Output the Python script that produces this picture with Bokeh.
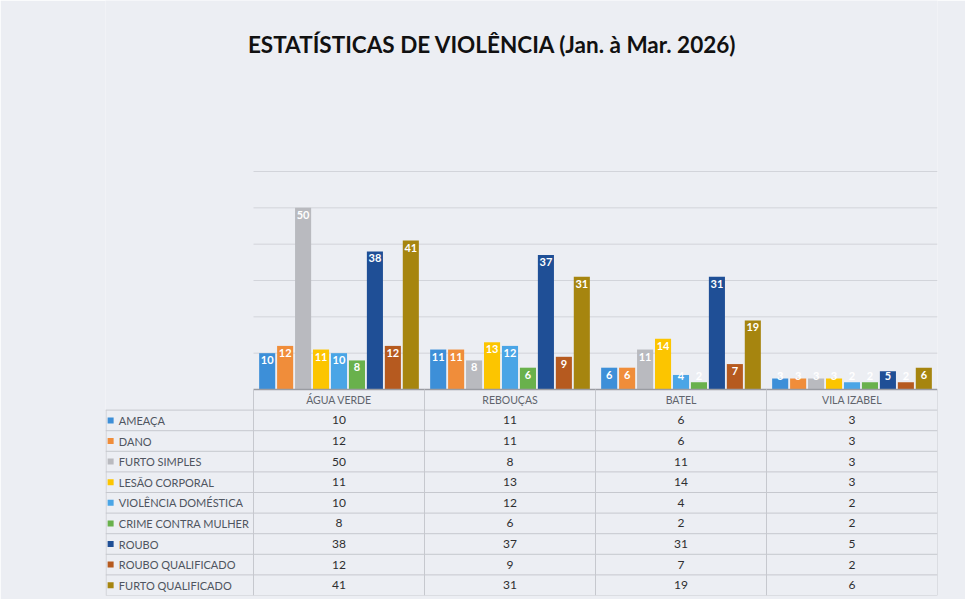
from bokeh.plotting import figure
from bokeh.models import ColumnDataSource, Range1d
from bokeh.core.properties import value
from bokeh.embed import file_html
from bokeh.resources import INLINE

# ---------------- data ----------------
districts = ["ÁGUA VERDE", "REBOUÇAS", "BATEL", "VILA IZABEL"]
series_names = ["AMEAÇA", "DANO", "FURTO SIMPLES", "LESÃO CORPORAL",
                "VIOLÊNCIA DOMÉSTICA", "CRIME CONTRA MULHER", "ROUBO",
                "ROUBO QUALIFICADO", "FURTO QUALIFICADO"]
ameaca = [10, 11, 6, 3]
dano = [12, 11, 6, 3]
furto_simples = [50, 8, 11, 3]
lesao_corporal = [11, 13, 14, 3]
violencia_domestica = [10, 12, 4, 2]
crime_contra_mulher = [8, 6, 2, 2]
roubo = [38, 37, 31, 5]
roubo_qualificado = [12, 9, 7, 2]
furto_qualificado = [41, 31, 19, 6]
series_values = [ameaca, dano, furto_simples, lesao_corporal, violencia_domestica,
                 crime_contra_mulher, roubo, roubo_qualificado, furto_qualificado]
y_ticks = [10, 20, 30, 40, 50, 60]
title_text = "ESTATÍSTICAS DE VIOLÊNCIA (Jan. à Mar. 2026)"

colors = ["#3d8fd8", "#f08d3a", "#b9babf", "#fcc500", "#4aa5e6",
          "#69b14c", "#1f4f96", "#b65a1f", "#a6850f"]

BG = "#eceef3"
FONT = "Lato"
W, H = 965, 599
BOTTOM = 4
frame_h = H - BOTTOM
chart_top_px = 171      # pixel row of the value 60
base_px = 389           # pixel row of the value 0 (baseline)
title_px = 44           # pixel row of the title centre
chart_px = base_px - chart_top_px
row_px = 20.6           # height of one table row
ymax = 60
unit = chart_px / ymax
left = -148 / 171       # legend column width relative to a category column
n = len(districts)

p = figure(width=W, height=H, x_range=Range1d(left, n),
           y_range=Range1d(-(frame_h - base_px) / unit, base_px / unit),
           output_backend="svg", toolbar_location=None,
           min_border_left=105, min_border_right=28, min_border_top=0,
           min_border_bottom=BOTTOM)
p.extra_y_ranges = {"tbl": Range1d(start=(frame_h - base_px) / row_px,
                                   end=-base_px / row_px)}

# title (centred at page x = 492)
p.text(x=[(492 - 253) / 171], y=[(base_px - title_px) / unit], text=[title_text],
       text_font=value(FONT), text_font_style="bold", text_font_size="22.5px",
       text_color="#111111", text_align="center", text_baseline="middle")

# gridlines (only over the chart area)
p.segment(x0=[0] * len(y_ticks), x1=[n] * len(y_ticks), y0=y_ticks, y1=y_ticks,
          line_color="#d2d4da", line_width=1)

# bars + labels
pitch = 0.105
bw = 0.094
for i, (name, vals) in enumerate(zip(series_names, series_values)):
    off = (i - 4) * pitch
    xs = [d + 0.5 + off for d in range(n)]
    src = ColumnDataSource(dict(x=xs, v=vals, ly=[max(v, 5.6) for v in vals],
                                lab=[str(v) for v in vals]))
    p.vbar(x="x", top="v", bottom=0, width=bw, source=src,
           fill_color=colors[i], line_color=None)
    p.text(x="x", y="ly", text="lab", source=src,
           text_font=value(FONT), text_font_style="bold", text_font_size="11px",
           text_color="white", text_align="center", text_baseline="top",
           y_offset=3)

# baseline
p.segment(x0=[0], x1=[n], y0=[0], y1=[0], line_color="#9a9ca2", line_width=1.5)

# ---------------- data table ----------------
line_c = "#c6c8ce"
rows = len(series_names) + 1
hy = [r for r in range(1, rows + 1)]
p.segment(x0=[left] * len(hy), y0=hy, x1=[n] * len(hy), y1=hy,
          line_color=line_c, line_width=1, y_range_name="tbl")
vx = [float(d) for d in range(n + 1)]
p.segment(x0=vx, y0=[0] * len(vx), x1=vx, y1=[rows] * len(vx),
          line_color=line_c, line_width=1, y_range_name="tbl")
p.segment(x0=[left + 0.003], y0=[1], x1=[left + 0.003], y1=[rows],
          line_color=line_c, line_width=1, y_range_name="tbl")

hsrc = ColumnDataSource(dict(x=[i + 0.5 for i in range(n)], y=[0.5] * n, t=districts))
p.text(x="x", y="y", text="t", source=hsrc, text_font=value(FONT),
       text_font_size="10.5px", text_color="#60646c", text_align="center",
       text_baseline="middle", y_range_name="tbl")

lsrc = ColumnDataSource(dict(x=[left + 0.03] * 9, xt=[left + 0.078] * 9,
                             y=[k + 1.5 for k in range(9)], t=series_names, c=colors))
p.scatter(x="x", y="y", marker="square", size=6, fill_color="c", line_color=None,
          source=lsrc, y_range_name="tbl")
p.text(x="xt", y="y", text="t", source=lsrc, text_font=value(FONT),
       text_font_size="11px", text_color="#4f5560", text_align="left",
       text_baseline="middle", y_range_name="tbl")

cx, cy, ct = [], [], []
for k, vals in enumerate(series_values):
    for d, v in enumerate(vals):
        cx.append(d + 0.5)
        cy.append(k + 1.5)
        ct.append(str(v))
csrc = ColumnDataSource(dict(x=cx, y=cy, t=ct))
p.text(x="x", y="y", text="t", source=csrc, text_font=value(FONT),
       text_font_size="12px", text_color="#2e2e30", text_align="center",
       text_baseline="middle", y_range_name="tbl")

p.axis.visible = False
p.grid.visible = False
p.outline_line_color = None
p.background_fill_color = BG
p.border_fill_color = BG

open("out.html", "w").write(file_html(p, INLINE))
